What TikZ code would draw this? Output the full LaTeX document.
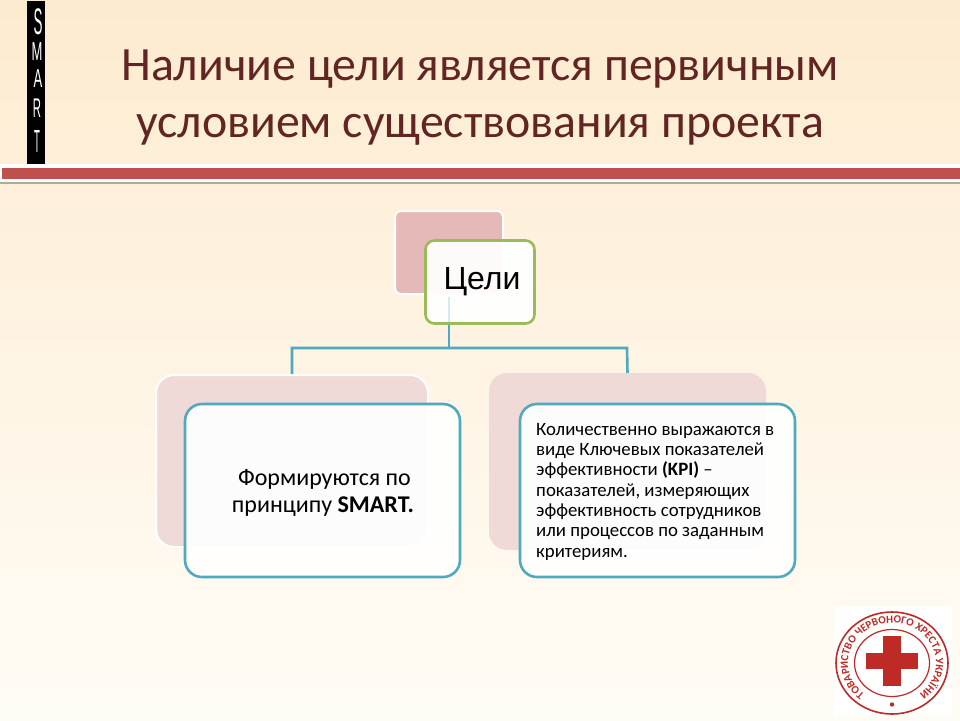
\documentclass[tikz,border=0pt]{standalone}
\usepackage{fontspec}
\setmainfont{Carlito}
\newfontfamily\arialfont{Liberation Sans}
\usetikzlibrary{decorations.text,shadings}
\definecolor{bgtop}{HTML}{FDEBCF}
\definecolor{bgmid}{HTML}{FEF4E4}
\definecolor{bgbot}{HTML}{FFFCF6}
\definecolor{titlecol}{HTML}{632523}
\definecolor{barred}{HTML}{C0504D}
\definecolor{linegrey}{HTML}{AEAC92}
\definecolor{linkblue}{HTML}{4FA9BF}
\definecolor{goalgreen}{HTML}{9BBB59}
\definecolor{backdark}{HTML}{E5B9B8}
\definecolor{backlight}{HTML}{F0DAD8}
\definecolor{logored}{HTML}{BE2A26}
\tikzset{
  x=1pt,y=-1pt,
  titletext/.style={text=titlecol,font=\fontsize{47.8}{47.8}\selectfont,anchor=base,inner sep=0pt},
  smartletter/.style={text=white,inner sep=0pt},
  backbox/.style={draw=white,line width=2pt,rounded corners=#1},
  frontbox/.style={draw=linkblue,line width=2.6pt,fill=white,fill opacity=.93,rounded corners=17pt},
  link/.style={draw=linkblue,line width=2.6pt},
  bodytext/.style={text=black,inner sep=0pt,align=left},
}
\begin{document}
\begin{tikzpicture}
\useasboundingbox (0,0) rectangle (960,720);
\shade[top color=bgtop,bottom color=bgbot,middle color=bgmid] (0,0) rectangle (960,720);
% SMART strip
\fill[black] (26.5,1) rectangle (44.5,165);
\node[smartletter,font=\arialfont\fontsize{37}{37}\selectfont,xscale=.36] (sS) at (38,22) {S};
\node[smartletter,font=\arialfont\fontsize{26}{26}\selectfont,xscale=.5] (sM) at (37,52) {M};
\node[smartletter,font=\arialfont\fontsize{26}{26}\selectfont,xscale=.5] (sA) at (38,79) {A};
\node[smartletter,font=\arialfont\fontsize{27}{27}\selectfont,xscale=.42] (sR) at (37,108) {R};
\node[smartletter,font=\arialfont\fontsize{32}{32}\selectfont,xscale=.3] (sT) at (37,141) {T};
% title
\node[titletext] (t1) at (480,80.5) {Наличие цели является первичным};
\node[titletext] (t2) at (480,137.5) {условием существования проекта};
% bar
\fill[white] (0,164) rectangle (960,182);
\fill[barred] (2,167.5) rectangle (960,178.5);
\fill[linegrey] (0,181.5) rectangle (960,184);
% goal
\node[backbox=6pt,fill=backdark,minimum width=108pt,minimum height=83pt,inner sep=0pt] (goalback) at (449,252.5) {};
\node[draw=goalgreen,line width=2.6pt,fill=white,fill opacity=.93,text opacity=1,rounded corners=9pt,minimum width=109pt,minimum height=83pt,inner sep=0pt] (goal) at (480,282) {};
\node[font=\arialfont\fontsize{32}{32}\selectfont,inner sep=0pt,text=black] (goaltext) at (482,282) {Цели};
% children back
\node[backbox=18pt,fill=backlight,minimum width=272pt,minimum height=172pt,inner sep=0pt] (lback) at (292,461) {};
\node[draw=none,fill=backlight,rounded corners=18pt,minimum width=277pt,minimum height=177pt,inner sep=0pt] (rback) at (627.5,461.5) {};
% connectors
\coordinate (trunk) at (449,348);
\draw[draw=linkblue!25!white,line width=2pt] (449,297) -- (449,322);
\draw[link] (goal.south -| trunk) -- (trunk);
\draw[link] (lback.north) -- (292,348) -- (627,348) -- (rback.north);
% children front
\node[frontbox,text opacity=1,minimum width=275pt,minimum height=173pt,inner sep=0pt] (lfront) at (322.5,490.5) {};
\node[frontbox,text opacity=1,minimum width=275pt,minimum height=173pt,inner sep=0pt] (rfront) at (657.5,490.5) {};
\node[bodytext,align=center,font=\fontsize{24}{27}\selectfont] (ltext) at (323,492.5) {\hspace*{3pt}Формируются по\\принципу \textbf{SMART.}};
\node[bodytext,anchor=north west,font=\fontsize{18.8}{20.3}\selectfont] (rtext) at (536,423) {Количественно выражаются в\\виде Ключевых показателей\\эффективности \textbf{(KPI)} --\\показателей, измеряющих\\эффективность сотрудников\\или процессов по заданным\\критериям.};
% logo
\fill[white] (834,606) rectangle (952,716);
\coordinate (logoc) at (892,663);
\draw[logored,line width=1.6pt] (logoc) ellipse[x radius=56pt,y radius=51pt];
\draw[logored,line width=1.2pt] (logoc) ellipse[x radius=37.5pt,y radius=33.5pt];
\fill[logored] (883,636) rectangle (901,686);
\fill[logored] (866,653) rectangle (918,669);
\path[decorate,decoration={text along path,text align=center,text={|\fontsize{11}{11}\selectfont\bfseries\color{logored}|ТОВАРИСТВО ЧЕРВОНОГО ХРЕСТА УКРАЇНИ}}]
  (logoc) ++(-27.1,31.5) arc[start angle=232,end angle=-52,x radius=44pt,y radius=40pt];
\fill[logored] (892,704.5) circle[radius=2.2pt];
\end{tikzpicture}
\end{document}
